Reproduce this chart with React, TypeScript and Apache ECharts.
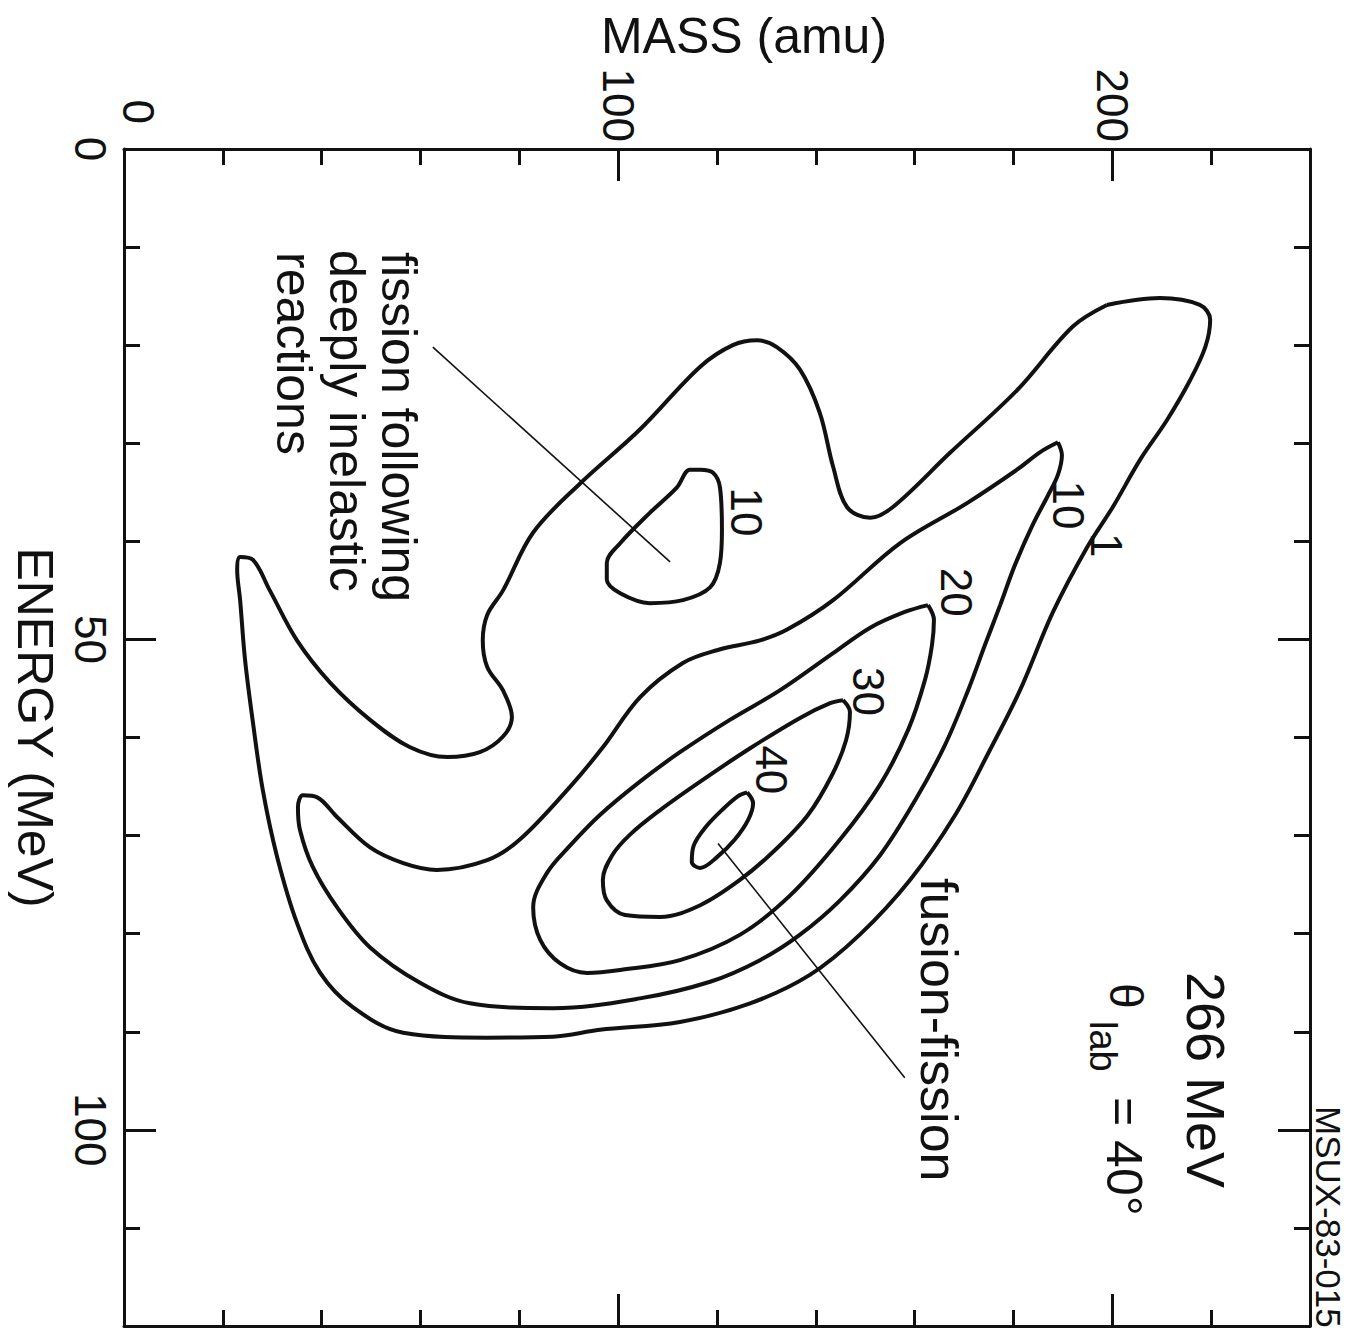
import React, { useEffect, useRef } from "react";
import * as echarts from "echarts";

// Axis extents: fragment mass (amu) across, fragment energy (MeV) downwards
const MASS_MAX = 240;
const ENERGY_MAX = 120;
const massTickLabels = [0, 100, 200];
const energyTickLabels = [0, 50, 100];

// Contour lines of the yield, each a closed loop of [mass, energy] points
const level1: number[][] = [
  [198.9, 15.9], [209.6, 15.2], [217.7, 15.9], [219.8, 17.4], [218.8, 20.2], [215.7, 23.6],
  [211.1, 27.6], [205.6, 31.7], [200.1, 36.5], [194.9, 40.6], [188.0, 47.2], [181.3, 55.2],
  [175.2, 61.3], [168.2, 67.9], [159.1, 74.5], [148.9, 80.1], [138.8, 84.2], [126.7, 87.1],
  [112.5, 89.0], [96.3, 89.8], [86.8, 90.5], [73.5, 90.6], [56.5, 90.1], [46.3, 87.5],
  [39.7, 84.0], [35.0, 78.9], [31.0, 72.2], [28.1, 65.4], [26.1, 58.5], [24.5, 52.1],
  [23.5, 46.0], [22.9, 42.9], [23.5, 41.6], [26.1, 41.9], [29.5, 45.0], [35.0, 50.1],
  [41.7, 54.4], [49.8, 58.2], [57.9, 61.0], [65.4, 62.0], [72.0, 61.5], [76.7, 59.9],
  [78.5, 57.9], [76.7, 55.2], [73.5, 52.8], [72.6, 50.1], [73.5, 47.5], [76.7, 45.0],
  [82.8, 39.1], [92.3, 34.1], [104.4, 28.6], [116.6, 22.2], [123.2, 20.0], [128.1, 19.5],
  [132.1, 20.2], [136.8, 22.5], [140.8, 26.9], [143.5, 32.4], [146.3, 36.5], [151.0, 37.6],
  [155.6, 36.5], [167.1, 31.0], [180.7, 24.6], [192.0, 18.1],
];

const level10Main: number[][] = [
  [189.0, 29.9], [189.8, 31.2], [189.0, 33.2], [187.0, 35.3], [183.9, 38.3], [180.3, 42.4],
  [177.3, 46.5], [174.2, 50.6], [170.8, 55.2], [166.1, 60.8], [160.1, 66.4], [153.0, 72.0],
  [144.9, 76.6], [136.8, 80.1], [128.7, 82.7], [118.6, 84.9], [104.4, 86.6], [86.8, 87.6],
  [70.0, 87.1], [59.9, 85.0], [49.8, 81.4], [43.1, 77.3], [38.2, 73.2], [35.6, 69.4],
  [35.2, 67.1], [36.2, 65.9], [39.1, 66.1], [43.1, 68.1], [49.8, 71.2], [56.5, 72.8],
  [63.3, 73.5], [73.5, 72.5], [80.1, 70.4], [90.3, 65.0], [96.9, 61.0], [104.4, 55.9],
  [113.1, 52.4], [120.0, 51.1], [128.7, 50.1], [134.2, 49.0], [143.5, 46.0], [157.0, 40.2],
  [170.6, 36.1], [180.7, 32.7], [185.4, 30.9],
];

const level10Island: number[][] = [
  [116.6, 32.7], [119.2, 33.0], [120.6, 34.5], [121.0, 38.8], [120.6, 42.2], [118.6, 44.7],
  [113.1, 46.0], [106.4, 46.3], [100.4, 45.3], [97.7, 43.9], [97.7, 42.2], [100.4, 40.2],
  [106.4, 37.1], [111.9, 34.5], [114.5, 32.7],
];

const level20: number[][] = [
  [162.7, 46.5], [163.9, 48.0], [163.5, 50.6], [162.1, 54.1], [158.7, 59.2], [153.0, 64.8],
  [144.9, 70.4], [134.8, 76.1], [124.7, 80.1], [112.5, 82.7], [100.4, 83.7], [93.7, 84.0],
  [88.2, 83.0], [84.2, 80.6], [82.8, 77.3], [85.6, 73.8], [90.3, 71.0], [96.3, 67.9],
  [104.4, 64.5], [112.5, 61.5], [122.6, 58.2], [132.7, 55.2], [143.5, 51.4], [151.0, 48.8],
  [158.0, 47.2],
];

const level30: number[][] = [
  [145.5, 56.2], [146.9, 57.4], [146.1, 60.3], [143.3, 63.8], [138.4, 67.9], [131.7, 71.5],
  [124.7, 74.5], [116.6, 77.1], [108.5, 78.3], [101.4, 78.1], [97.7, 76.6], [96.9, 74.5],
  [98.8, 72.0], [102.4, 69.9], [108.5, 67.4], [116.6, 64.5], [126.7, 61.1], [136.8, 58.0],
  [142.9, 56.5],
];

const level40: number[][] = [
  [126.1, 65.6], [127.3, 66.7], [126.3, 68.4], [123.6, 70.4], [120.0, 72.2], [116.6, 73.3],
  [114.9, 72.7], [115.3, 71.0], [117.6, 69.2], [121.0, 67.4], [124.2, 66.0],
];

// Level labels written along the contours
const contourLabelText = ["1", "10", "10", "20", "30", "40"];
const contourLabelMass = [198.9, 191.2, 125.9, 168.4, 150.6, 131.1];
const contourLabelEnergy = [40.4, 36.3, 37.0, 45.2, 55.3, 63.3];

// Pointer lines from the annotations to the two yield regions
const dilPointer: number[][] = [[62.5, 20.2], [110.5, 42.1]];
const ffPointer: number[][] = [[120.2, 70.8], [158.0, 94.7]];

const FONT = "'Liberation Sans', Arial, Helvetica, sans-serif";
const INK = "#111111";
const MAJOR_TICK = 32;
const MINOR_TICK = 16;
const CW = -Math.PI / 2; // quarter turn clockwise

const closeLoop = (pts: number[][]) => [...pts, pts[0]];

function buildOption() {
  // The labelled axes sit at energy 0 / mass 0 anyway; the others must not snap there
  const mainLine = { show: true, lineStyle: { color: INK, width: 3 } };
  const farLine = { show: true, onZero: false, lineStyle: { color: INK, width: 3 } };
  const noLine = { show: false, onZero: false };
  const tick = (length: number) => ({
    show: true,
    inside: true,
    length,
    lineStyle: { color: INK, width: 3 },
  });

  const xBase = {
    type: "value" as const,
    min: 0,
    max: MASS_MAX,
    splitLine: { show: false },
  };
  const yBase = {
    type: "value" as const,
    min: 0,
    max: ENERGY_MAX,
    inverse: true,
    splitLine: { show: false },
  };

  const contour = (name: string, pts: number[][]) => ({
    name,
    type: "line",
    data: closeLoop(pts),
    smooth: 0.35,
    symbol: "none",
    silent: true,
    lineStyle: { color: INK, width: 4 },
  });

  const pointer = (name: string, pts: number[][]) => ({
    name,
    type: "line",
    data: pts,
    symbol: "none",
    silent: true,
    lineStyle: { color: INK, width: 1.6 },
  });

  const rotText = (text: string, x: number, y: number, fontSize: number) => ({
    type: "text",
    x,
    y,
    rotation: CW,
    silent: true,
    style: {
      text,
      fontSize,
      fontFamily: FONT,
      fill: INK,
      align: "left",
      verticalAlign: "middle",
    },
  });

  return {
    animation: false,
    backgroundColor: "#ffffff",
    textStyle: { fontFamily: FONT, color: INK },
    grid: { left: 124, top: 149, right: 53, bottom: 14, outerBoundsMode: "none" },
    xAxis: [
      {
        ...xBase,
        position: "top",
        interval: 100,
        axisLine: mainLine,
        axisTick: tick(MAJOR_TICK),
        axisLabel: {
          show: true,
          rotate: -90,
          align: "right",
          verticalAlign: "middle",
          margin: 7,
          fontSize: 44,
          fontFamily: FONT,
          color: INK,
          formatter: (v: number) =>
            massTickLabels.includes(v) ? (v === 0 ? "{z|0}" : String(v)) : "",
          rich: {
            z: { fontSize: 44, fontFamily: FONT, color: INK, padding: [0, 18, 28, 0] },
          },
        },
        name: "MASS (amu)",
        nameLocation: "middle",
        nameGap: 112,
        nameTextStyle: {
          fontSize: 50,
          fontFamily: FONT,
          color: INK,
          align: "center",
          verticalAlign: "middle",
          padding: [0, 0, 0, 54],
        },
      },
      { ...xBase, position: "top", interval: 20, axisLine: noLine, axisTick: tick(MINOR_TICK), axisLabel: { show: false } },
      { ...xBase, position: "bottom", interval: 100, axisLine: farLine, axisTick: tick(MAJOR_TICK), axisLabel: { show: false } },
      { ...xBase, position: "bottom", interval: 20, axisLine: noLine, axisTick: tick(MINOR_TICK), axisLabel: { show: false } },
    ],
    yAxis: [
      {
        ...yBase,
        position: "left",
        interval: 50,
        axisLine: mainLine,
        axisTick: tick(MAJOR_TICK),
        axisLabel: {
          show: true,
          rotate: -90,
          align: "center",
          verticalAlign: "top",
          margin: 12,
          fontSize: 44,
          fontFamily: FONT,
          color: INK,
          formatter: (v: number) => (energyTickLabels.includes(v) ? String(v) : ""),
        },
        name: "ENERGY (MeV)",
        nameLocation: "middle",
        nameRotate: -90,
        nameGap: 88,
        nameTextStyle: {
          fontSize: 50,
          fontFamily: FONT,
          color: INK,
          align: "center",
          verticalAlign: "middle",
          padding: [0, 20, 0, 0],
        },
      },
      { ...yBase, position: "left", interval: 10, axisLine: noLine, axisTick: tick(MINOR_TICK), axisLabel: { show: false } },
      { ...yBase, position: "right", interval: 50, axisLine: farLine, axisTick: tick(MAJOR_TICK), axisLabel: { show: false } },
      { ...yBase, position: "right", interval: 10, axisLine: noLine, axisTick: tick(MINOR_TICK), axisLabel: { show: false } },
    ],
    series: [
      contour("level 1", level1),
      contour("level 10", level10Main),
      contour("level 10 (deep inelastic)", level10Island),
      contour("level 20", level20),
      contour("level 30", level30),
      contour("level 40", level40),
      pointer("deep inelastic pointer", dilPointer),
      pointer("fusion-fission pointer", ffPointer),
      {
        name: "contour labels",
        type: "scatter",
        symbolSize: 1,
        itemStyle: { color: "rgba(0,0,0,0)" },
        silent: true,
        data: contourLabelText.map((t, i) => ({
          name: t,
          value: [contourLabelMass[i], contourLabelEnergy[i]],
        })),
        label: {
          show: true,
          position: "inside",
          rotate: -90,
          align: "center",
          verticalAlign: "middle",
          formatter: "{b}",
          fontSize: 44,
          fontFamily: FONT,
          color: INK,
          opacity: 1,
        },
      },
    ],
    graphic: [
      rotText("fission following", 399, 252, 50),
      rotText("deeply inelastic", 347, 250, 50),
      rotText("reactions", 294, 252, 50),
      rotText("fusion-fission", 939, 878, 52),
      rotText("266 MeV", 1206, 972, 54),
      rotText("θ", 1126, 983, 46),
      rotText("lab", 1103, 1021, 38),
      rotText("= 40°", 1124, 1097, 50),
      rotText("MSUX-83-015", 1328, 1106, 35),
    ],
  };
}

export default function App() {
  const ref = useRef<HTMLDivElement>(null);

  useEffect(() => {
    if (!ref.current) return;
    const chart = echarts.init(ref.current, undefined, { renderer: "svg" });
    chart.setOption(buildOption() as any);
    return () => chart.dispose();
  }, []);

  return (
    <div
      ref={ref}
      style={{
        position: "fixed",
        left: 0,
        top: 0,
        width: 1363,
        height: 1340,
        background: "#ffffff",
      }}
    />
  );
}
